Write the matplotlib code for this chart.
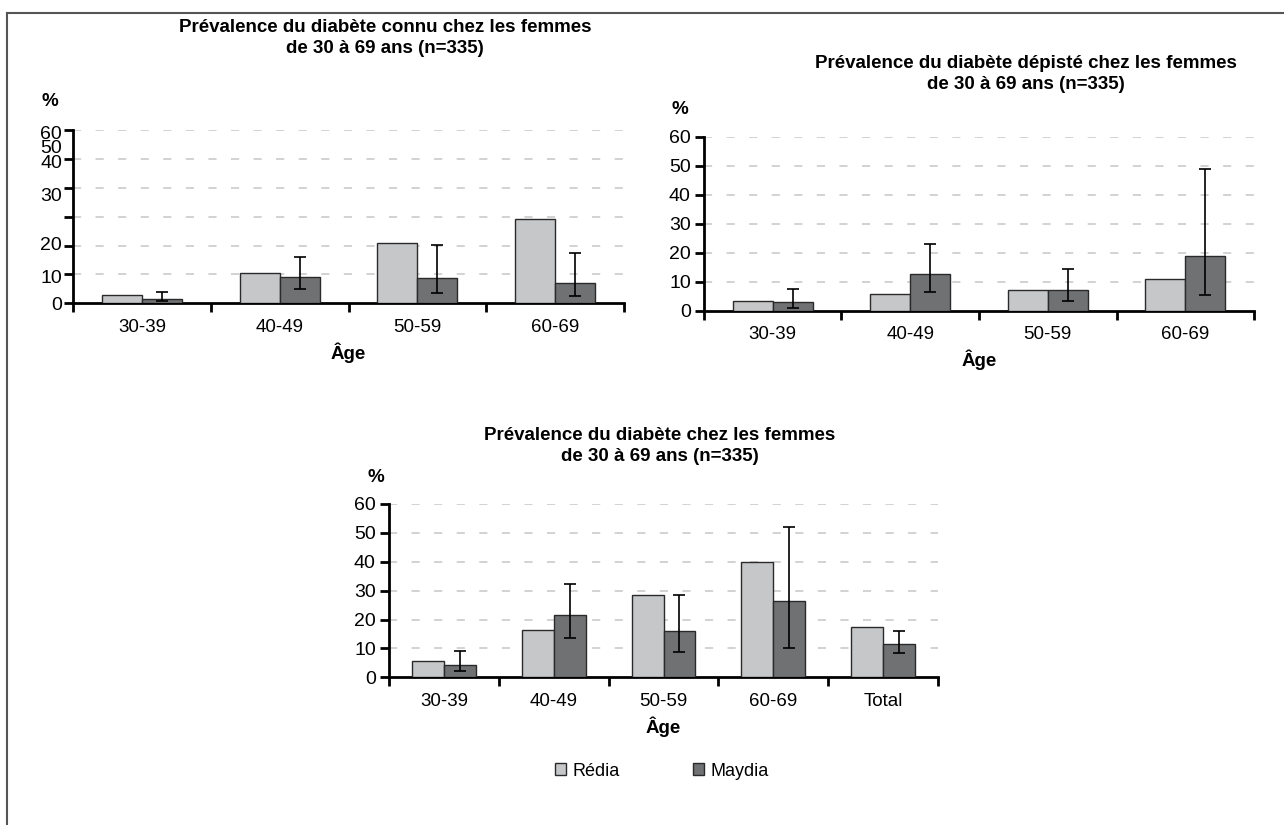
import matplotlib
matplotlib.use("Agg")
import matplotlib.pyplot as plt
from matplotlib.patches import Patch
from matplotlib.lines import Line2D
import matplotlib.transforms as mtransforms
import numpy as np

plt.rcParams['font.family'] = ['Liberation Sans', 'DejaVu Sans']

# ---- data -------------------------------------------------------------
ages = ["30-39", "40-49", "50-59", "60-69"]
ages_total = ["30-39", "40-49", "50-59", "60-69", "Total"]
series_names = ["Rédia", "Maydia"]

# diabète connu
known_redia = [2.8, 10.6, 21.0, 29.1]
known_maydia = [1.4, 9.0, 8.7, 7.1]
known_low = [0.8, 4.9, 3.7, 2.6]
known_high = [3.8, 15.9, 20.3, 17.5]

# diabète dépisté
screened_redia = [3.2, 5.6, 7.2, 10.9]
screened_maydia = [2.9, 12.5, 7.2, 18.7]
screened_low = [0.8, 6.6, 3.4, 5.4]
screened_high = [7.5, 22.9, 14.5, 49.0]

# diabète (total)
total_redia = [5.8, 16.5, 28.4, 40.0, 17.3]
total_maydia = [4.3, 21.7, 16.2, 26.3, 11.7]
total_low = [2.1, 13.6, 8.6, 10.2, 8.4]
total_high = [9.0, 32.4, 28.4, 51.9, 15.9]

y_ticks = [0, 10, 20, 30, 40, 50, 60]
y_labels = ["0", "10", "20", "30", "40", "50", "60"]
# label heights used on the first panel's value axis
known_label_pos = [0, 9.2, 20.8, 37.5, 49.0, 54.2, 59.3]

titles = [
    "Prévalence du diabète connu chez les femmes\nde 30 à 69 ans (n=335)",
    "Prévalence du diabète dépisté chez les femmes\nde 30 à 69 ans (n=335)",
    "Prévalence du diabète chez les femmes\nde 30 à 69 ans (n=335)",
]

# ---- style ------------------------------------------------------------
C_REDIA = "#c6c7c9"
C_MAYDIA = "#707173"
EDGE = "#2a2a2a"
GRID = "#cfcfcf"
FS = 13.5
TFS = 13.5

W, H = 1284, 825
fig = plt.figure(figsize=(W / 100, H / 100), dpi=100)


def px_axes(left, top, right, bottom):
    return fig.add_axes([left / W, 1 - bottom / H, (right - left) / W, (bottom - top) / H])


def panel(ax, cats, redia, maydia, low, high, custom_labels=None):
    n = len(cats)
    x = np.arange(n)
    bw = 0.29
    ax.bar(x - bw / 2, redia, bw, color=C_REDIA, edgecolor=EDGE, linewidth=1.0, zorder=3)
    ax.bar(x + bw / 2, maydia, bw, color=C_MAYDIA, edgecolor=EDGE, linewidth=1.0, zorder=3)
    m = np.array(maydia)
    yerr = [m - np.array(low), np.array(high) - m]
    ax.errorbar(x + bw / 2, m, yerr=yerr, fmt="none", ecolor="black",
                elinewidth=1.2, capsize=4.3, capthick=1.2, zorder=4)

    ax.set_xlim(-0.5, n - 0.5)
    ax.set_ylim(0, 60)
    for s in ("top", "right"):
        ax.spines[s].set_visible(False)
    for s in ("left", "bottom"):
        ax.spines[s].set_linewidth(2.0)
        ax.spines[s].set_color("black")
        ax.spines[s].set_capstyle("projecting")

    # category separators as major ticks, names as minor ticks
    ax.set_xticks(np.arange(n + 1) - 0.5)
    ax.set_xticklabels([])
    ax.set_xticks(x, minor=True)
    ax.set_xticklabels(cats, minor=True, fontsize=FS)
    ax.tick_params(axis="x", which="major", direction="out", length=6.5, width=2.0)
    ax.tick_params(axis="x", which="minor", length=0, pad=11)

    ax.set_yticks(y_ticks)
    ax.tick_params(axis="y", direction="out", length=6.5, width=2.0, pad=3)
    if custom_labels is None:
        ax.set_yticklabels(y_labels, fontsize=FS + 0.5)
    else:
        ax.set_yticklabels([])
        trans = mtransforms.offset_copy(ax.get_yaxis_transform(), fig=fig, x=-11, y=0, units="dots")
        for lab, pos in zip(y_labels, custom_labels):
            ax.text(0, pos, lab, transform=trans, ha="right", va="center_baseline", fontsize=FS + 0.5)

    for yv in y_ticks[1:]:
        ax.axhline(yv, color=GRID, linewidth=1.3, linestyle=(0, (4.5, 8)), zorder=1)

    ax.set_xlabel("Âge", fontsize=FS, fontweight="bold", labelpad=5)


ax1 = px_axes(73, 130, 624, 303.3)
panel(ax1, ages, known_redia, known_maydia, known_low, known_high, custom_labels=known_label_pos)

ax2 = px_axes(704, 136.7, 1254, 310.7)
panel(ax2, ages, screened_redia, screened_maydia, screened_low, screened_high)

ax3 = px_axes(389, 504, 938, 677.3)
panel(ax3, ages_total, total_redia, total_maydia, total_low, total_high)

# titles and unit labels
fig.text(385 / W, 1 - 38 / H, titles[0], ha="center", va="center", fontsize=TFS, fontweight="bold", linespacing=1.35)
fig.text(1026 / W, 1 - 74 / H, titles[1], ha="center", va="center", fontsize=TFS, fontweight="bold", linespacing=1.35)
fig.text(660 / W, 1 - 446 / H, titles[2], ha="center", va="center", fontsize=TFS, fontweight="bold", linespacing=1.35)

fig.text(50 / W, 1 - 101 / H, "%", ha="center", va="center", fontsize=FS, fontweight="bold")
fig.text(680 / W, 1 - 110 / H, "%", ha="center", va="center", fontsize=FS, fontweight="bold")
fig.text(376 / W, 1 - 478 / H, "%", ha="center", va="center", fontsize=FS, fontweight="bold")

# legend
handles = [Patch(facecolor=C_REDIA, edgecolor=EDGE, linewidth=1.0),
           Patch(facecolor=C_MAYDIA, edgecolor=EDGE, linewidth=1.0)]
fig.legend(handles, series_names, loc="center left", bbox_to_anchor=(555 / W, 1 - 771 / H),
           ncol=2, frameon=False, fontsize=13, handlelength=0.6, handleheight=0.6,
           handletextpad=0.35, columnspacing=4.1, borderpad=0, borderaxespad=0)

# outer frame (top and left edges)
fig.add_artist(Line2D([7 / W, 1.0], [1 - 13 / H, 1 - 13 / H], transform=fig.transFigure,
                      color="#555555", linewidth=1.5))
fig.add_artist(Line2D([7 / W, 7 / W], [1 - 13 / H, 0.0], transform=fig.transFigure,
                      color="#555555", linewidth=1.5))

fig.savefig("out.png", dpi=100)
